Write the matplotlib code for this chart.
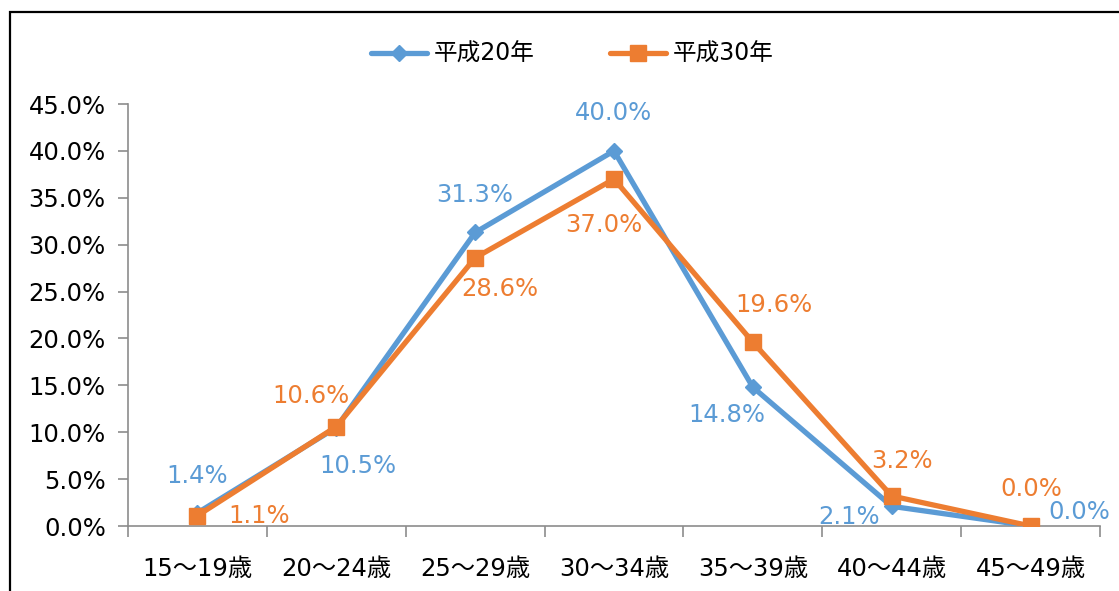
import matplotlib
matplotlib.use("Agg")
import matplotlib.pyplot as plt
from matplotlib.patches import Rectangle

plt.rcParams['font.family'] = ['DejaVu Sans', 'Noto Sans CJK JP']

categories = ["15～19歳", "20～24歳", "25～29歳", "30～34歳", "35～39歳", "40～44歳", "45～49歳"]
h20 = [1.4, 10.5, 31.3, 40.0, 14.8, 2.1, 0.0]
h30 = [1.1, 10.6, 28.6, 37.0, 19.6, 3.2, 0.0]
series_names = ["平成20年", "平成30年"]
# label offsets in pixels (dx, dy)
h20_off = [(0, 37), (22, -38), (0, 37), (0, 38), (-26, -28), (-43, -11), (49, 14)]
h30_off = [(62, 0), (-25, 31), (25, -31), (-10, -46), (21, 37), (10, 35), (1, 37)]

blue = "#5B9BD5"
orange = "#ED7D31"
fs = 17.5

fig = plt.figure(figsize=(11.19, 5.91), dpi=100)
ax = fig.add_axes([128/1119, 1-526/591, (1100-128)/1119, (526-104)/591])

x = list(range(len(categories)))
ax.plot(x, h20, color=blue, lw=3.8, marker='D', ms=8, label=series_names[0], zorder=3,
        solid_capstyle='round')
ax.plot(x, h30, color=orange, lw=3.8, marker='s', ms=12, label=series_names[1], zorder=4,
        solid_capstyle='round')

for xi, v, off in zip(x, h20, h20_off):
    ax.annotate(f"{v:.1f}%", (xi, v), xytext=off, textcoords='offset pixels',
                ha='center', va='center', color=blue, fontsize=fs, zorder=5)
for xi, v, off in zip(x, h30, h30_off):
    ax.annotate(f"{v:.1f}%", (xi, v), xytext=off, textcoords='offset pixels',
                ha='center', va='center', color=orange, fontsize=fs, zorder=5)

ax.set_xlim(-0.5, len(categories) - 0.5)
ax.set_ylim(0, 45)
ax.set_yticks([i * 5 for i in range(10)])
ax.set_yticklabels([f"{i*5:.1f}%" for i in range(10)], fontsize=fs)
ax.set_xticks(x)
ax.set_xticklabels(categories, fontsize=fs)
ax.set_xticks([i - 0.5 for i in range(len(categories) + 1)], minor=True)
ax.tick_params(axis='x', which='major', length=0, pad=22)
ax.tick_params(axis='x', which='minor', length=8, color='#8c8c8c', width=1.2)
ax.tick_params(axis='y', length=7, color='#8c8c8c', width=1.2, pad=9)
for s in ['top', 'right']:
    ax.spines[s].set_visible(False)
for s in ['left', 'bottom']:
    ax.spines[s].set_color('#8c8c8c')
    ax.spines[s].set_linewidth(1.2)

fig.legend(loc='center', bbox_to_anchor=(572/1119, 1-54/591), ncol=2, frameon=False,
           fontsize=17, handlelength=2.4, columnspacing=3.2, handletextpad=0.25)

fig.patches.append(Rectangle((10/1119, -0.1), 1.2, 1 - 12/591 + 0.1, transform=fig.transFigure,
                             fill=False, edgecolor='black', lw=1.6))

fig.savefig("out.png", dpi=100)
